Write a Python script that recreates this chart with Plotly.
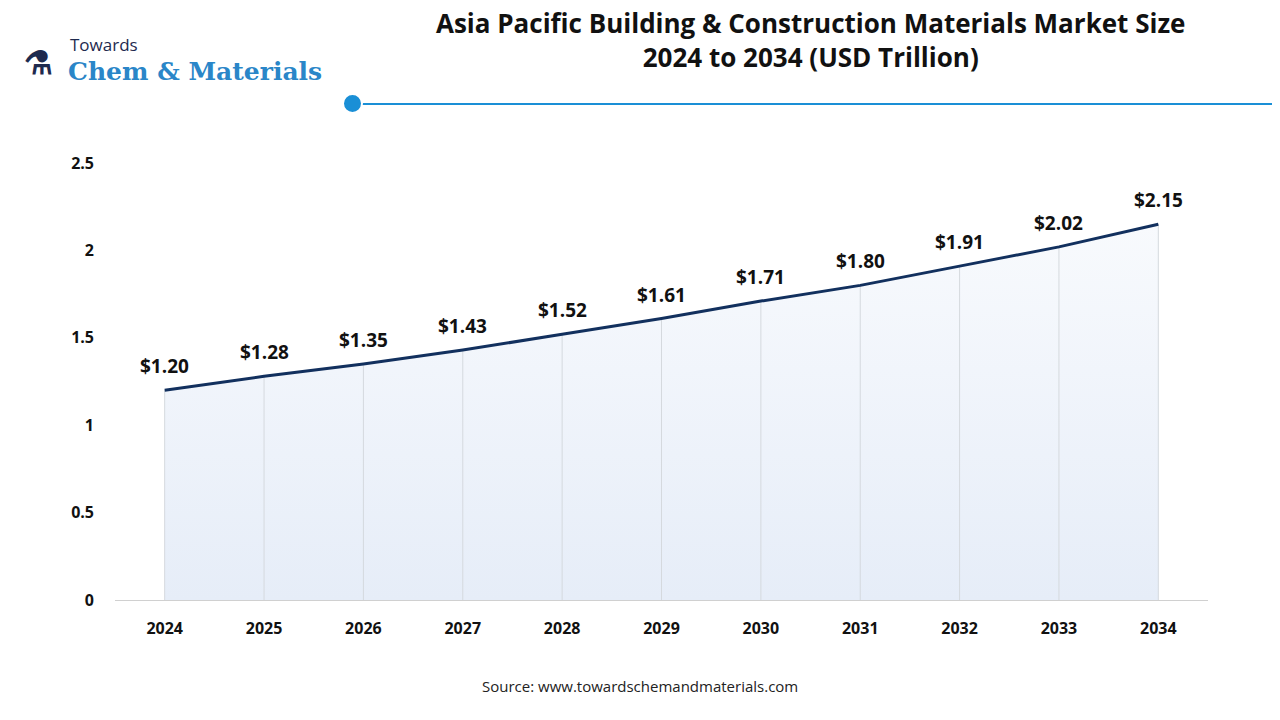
import plotly.graph_objects as go

years = ["2024", "2025", "2026", "2027", "2028", "2029", "2030", "2031", "2032", "2033", "2034"]
values = [1.20, 1.28, 1.35, 1.43, 1.52, 1.61, 1.71, 1.80, 1.91, 2.02, 2.15]
labels = [f"<b>${v:.2f}</b>" for v in values]
y_ticks = [0, 0.5, 1, 1.5, 2, 2.5]

# page renders figure with an 8px body margin, so work in figure pixels = screen - 8
OFF = 8
L, R, T, B = 115 - OFF, 80, 163 - OFF, 128
PW, PH = 1280 - L - R, 720 - T - B


def px(x):
    return (x - OFF - L) / PW


def py(y):
    return (720 - B - (y - OFF)) / PH


fig = go.Figure()

# area under line with soft gradient
fig.add_trace(go.Scatter(
    x=years, y=values, mode="lines", line=dict(width=0), fill="tozeroy",
    fillgradient=dict(type="vertical", colorscale=[[0, "#e6edf8"], [1, "#f8fafd"]]),
    hoverinfo="skip", showlegend=False,
))

# drop lines from each point to the axis
dx, dy = [], []
for yr, v in zip(years, values):
    dx += [yr, yr, None]
    dy += [0, v, None]
fig.add_trace(go.Scatter(x=dx, y=dy, mode="lines", line=dict(color="#d5d9de", width=1),
                         hoverinfo="skip", showlegend=False))

fig.add_trace(go.Scatter(
    x=years, y=values, mode="lines",
    line=dict(color="#12305e", width=3), showlegend=False,
))

# value labels (category index positions on the x axis)
for i, (v, lab) in enumerate(zip(values, labels)):
    fig.add_annotation(x=i, y=v, text=lab, showarrow=False, yshift=24, yanchor="middle",
                       font=dict(family="Open Sans", size=19, color="#111"))

fig.update_layout(
    width=1280, height=720, paper_bgcolor="white", plot_bgcolor="white",
    margin=dict(l=L, r=R, t=T, b=B),
    font=dict(family="Open Sans", color="#111"),
    xaxis=dict(type="category", range=[-0.5, len(years) - 0.5], showgrid=False, showline=True,
               linecolor="#d0d0d0", ticks="", automargin=False,
               tickfont=dict(size=16, color="#111", family="Open Sans"),
               ticklabelstandoff=14, tickvals=years, ticktext=[f"<b>{y}</b>" for y in years]),
    yaxis=dict(range=[0, 2.5], tickvals=y_ticks, ticktext=[f"<b>{t:g}</b>" for t in y_ticks],
               showgrid=False, zeroline=False, tickfont=dict(size=16, color="#111"),
               ticklabelstandoff=20, automargin=False),
)

fig.add_annotation(xref="paper", yref="paper", x=px(810), y=py(40), yanchor="middle",
                   text="<b>Asia Pacific Building & Construction Materials Market Size<br>2024 to 2034 (USD Trillion)</b>",
                   showarrow=False, font=dict(size=26, color="#111"))

# header rule with dot
fig.add_shape(type="line", xref="paper", yref="paper", x0=px(352), x1=px(1290),
              y0=py(104), y1=py(104), line=dict(color="#1a8fd6", width=2))
fig.add_shape(type="circle", xref="paper", yref="paper",
              x0=px(343), x1=px(362), y0=py(113), y1=py(94),
              fillcolor="#1a8fd6", line=dict(color="white", width=2))

# logo text
fig.add_annotation(xref="paper", yref="paper", x=px(68), y=py(44), xanchor="left", yanchor="middle",
                   text="Towards", showarrow=False, font=dict(size=17, color="#1e2a4e", family="Open Sans"))
fig.add_annotation(xref="paper", yref="paper", x=px(66), y=py(71), xanchor="left", yanchor="middle",
                   text="<b>Chem & Materials</b>", showarrow=False,
                   font=dict(size=25, color="#2a86c8", family="DejaVu Serif"))
fig.add_annotation(xref="paper", yref="paper", x=px(22), y=py(62), xanchor="left", yanchor="middle",
                   text="<b>⚗</b>", showarrow=False, font=dict(size=32, color="#1e2a4e"))

fig.add_annotation(xref="paper", yref="paper", x=px(640), y=py(686), yanchor="middle",
                   text="Source: www.towardschemandmaterials.com", showarrow=False,
                   font=dict(size=15, color="#222"))

fig.write_html("out.html")
